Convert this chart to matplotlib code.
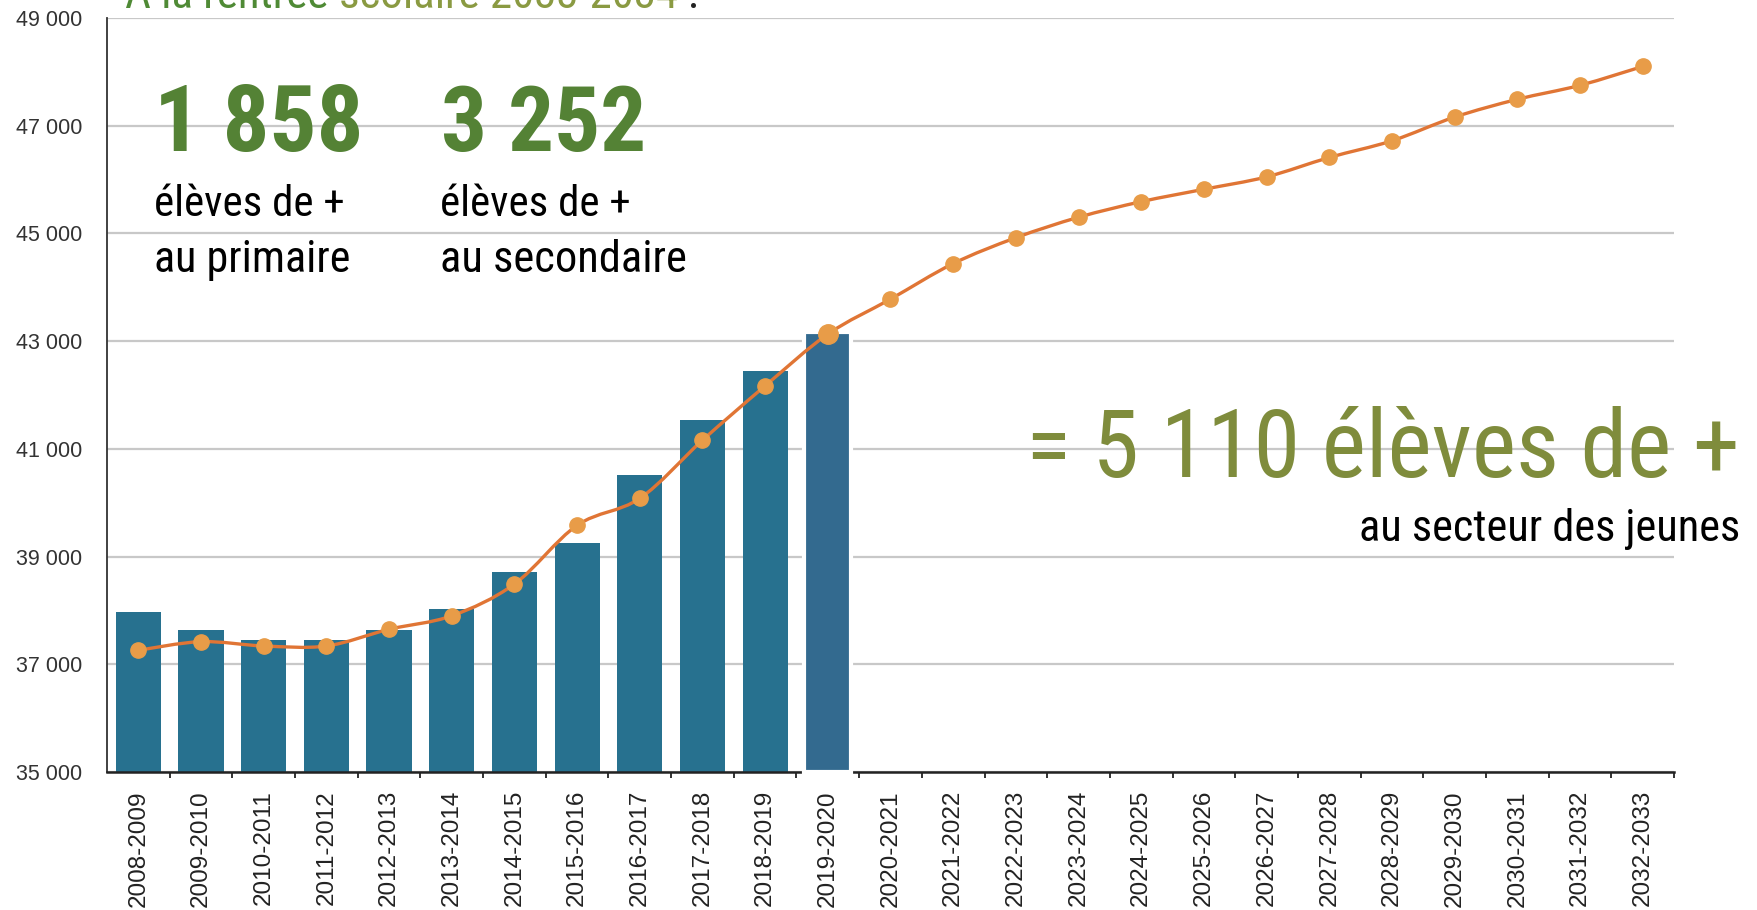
import matplotlib.pyplot as plt
import numpy as np
from matplotlib import font_manager
from matplotlib.font_manager import FontProperties
from matplotlib.path import Path
from matplotlib.patches import PathPatch

# school years on the x axis
years = ["2008-2009", "2009-2010", "2010-2011", "2011-2012", "2012-2013",
         "2013-2014", "2014-2015", "2015-2016", "2016-2017", "2017-2018",
         "2018-2019", "2019-2020", "2020-2021", "2021-2022", "2022-2023",
         "2023-2024", "2024-2025", "2025-2026", "2026-2027", "2027-2028",
         "2028-2029", "2029-2030", "2030-2031", "2031-2032", "2032-2033"]

# observed enrolment (bars), 2008-2009 .. 2019-2020
observed = [37970, 37630, 37450, 37450, 37630, 38030, 38720, 39260,
            40520, 41540, 42440, 43170]

# projected curve (line), 2008-2009 .. 2032-2033
projected = [37260, 37420, 37340, 37340, 37650, 37900, 38490, 39580,
             40080, 41160, 42170, 43130, 43780, 44440, 44920, 45300,
             45590, 45820, 46050, 46410, 46720, 47160, 47490, 47750, 48100]

yticks = [35000, 37000, 39000, 41000, 43000, 45000, 47000, 49000]
ytick_labels = ["35 000", "37 000", "39 000", "41 000", "43 000",
                "45 000", "47 000", "49 000"]

BASE = 35000
W, H = 1758, 910


def stretch_num(s):
    if isinstance(s, (int, float)):
        return s
    return font_manager.stretch_dict.get(s, 500)


def weight_num(w):
    if isinstance(w, (int, float)):
        return w
    return font_manager.weight_dict.get(w, 400)


def narrow_font(bold=False):
    # look for an Arial-Narrow-like face among the installed fonts
    prefs = ["liberation sans narrow", "roboto condensed", "open sans condensed",
             "noto sans", "dejavu sans", "roboto", "open sans"]
    best = None
    for f in font_manager.fontManager.ttflist:
        name = f.name.lower()
        fname = f.fname.lower()
        condensed = ("narrow" in name or "condensed" in name or "condensed" in fname
                     or "narrow" in fname or stretch_num(f.stretch) < 500)
        if not condensed or f.style != "normal":
            continue
        rank_w = 1 if ("extra" in fname or "ultra" in fname or "semi" in fname) else 0
        w = weight_num(f.weight)
        if bold and w < 600:
            continue
        if not bold and not (350 <= w <= 450):
            continue
        rank_n = len(prefs)
        for i, p in enumerate(prefs):
            if name.startswith(p):
                rank_n = i
                break
        key = (rank_w, rank_n, abs(w - (700 if bold else 400)))
        if best is None or key < best[0]:
            best = (key, f.fname)
    if best is None:
        return FontProperties(family="DejaVu Sans", weight="bold" if bold else "normal")
    return FontProperties(fname=best[1])


nar = narrow_font(False)
nar_b = narrow_font(True)
plain = "Liberation Sans"

fig = plt.figure(figsize=(W / 100, H / 100), dpi=100)
ax = fig.add_axes([107 / W, 1 - 772 / H, (1674 - 107) / W, (772 - 18) / H])

# bars
x_obs = np.arange(len(observed))
heights = [v - BASE for v in observed]
ax.bar(x_obs[:-1], heights[:-1], bottom=BASE, width=0.72, color="#27718f", zorder=2)
ax.bar(x_obs[-1:], heights[-1:], bottom=BASE, width=0.75, color="#336a8f",
       edgecolor="white", linewidth=3, zorder=3, clip_on=False)

# smooth line through projected points (Catmull-Rom -> cubic bezier)
xs = np.arange(len(projected), dtype=float)
ys = np.array(projected, dtype=float)
pts = np.column_stack([xs, ys])
verts = [pts[0]]
codes = [Path.MOVETO]
for i in range(len(pts) - 1):
    p0 = pts[max(i - 1, 0)]
    p1 = pts[i]
    p2 = pts[i + 1]
    p3 = pts[min(i + 2, len(pts) - 1)]
    verts += [p1 + (p2 - p0) / 6.0, p2 - (p3 - p1) / 6.0, p2]
    codes += [Path.CURVE4] * 3
ax.add_patch(PathPatch(Path(verts, codes), fill=False, edgecolor="#e07535",
                       linewidth=2.4, zorder=4, capstyle="round"))
ax.plot(xs, ys, linestyle="none", marker="o", markersize=11,
        color="#e89c48", zorder=5)
ax.plot(xs[11:12], ys[11:12], linestyle="none", marker="o", markersize=14,
        color="#e89c48", zorder=5)

ax.set_xlim(-0.5, len(years) - 0.5)
ax.set_ylim(BASE, 49000)

ax.set_yticks(yticks)
ax.set_yticklabels(ytick_labels, fontfamily=plain, fontsize=15.5, color="#333333")
ax.tick_params(axis="y", length=0, pad=18)
ax.yaxis.grid(True, color="#c8c8c8", linewidth=1.6)
ax.set_axisbelow(True)

ax.set_xticks(np.arange(len(years)))
ax.set_xticklabels(years, rotation=90, fontfamily=plain, fontsize=17.5, color="#222222")
ax.set_xticks(np.arange(len(years)) + 0.5, minor=True)
ax.tick_params(axis="x", which="major", length=0, pad=13)
ax.tick_params(axis="x", which="minor", length=4, width=1.3, color="#222222")

for s in ["top", "right"]:
    ax.spines[s].set_visible(False)
ax.spines["left"].set_color("#333333")
ax.spines["left"].set_linewidth(1.3)
ax.spines["bottom"].set_color("#222222")
ax.spines["bottom"].set_linewidth(1.8)

# annotations: (text, x px, baseline px, ha, target width px, colour, bold, size, extra)
green = "#548235"
olive = "#7f8c3c"
notes = [
    ("1 858", 154, 151, "left", 196, green, True, 76, 1.07),
    ("3 252", 441, 151, "left", 192, green, True, 76, 1.07),
    ("élèves de +", 154, 216, "left", 190, "black", False, 31, 1.0),
    ("au primaire", 154, 272, "left", 196, "black", False, 31, 1.0),
    ("élèves de +", 440, 216, "left", 190, "black", False, 31, 1.0),
    ("au secondaire", 440, 272, "left", 246, "black", False, 31, 1.0),
    ("= 5 110 élèves de +", 1740, 477, "right", 700, olive, False, 72, 1.02),
    ("au secteur des jeunes", 1740, 541, "right", 381, "black", False, 31, 1.0),
]
texts = []
for s, xpx, ypx, ha, wpx, col, bold, size, extra in notes:
    t = fig.text(xpx / W, 1 - ypx / H, s, fontproperties=nar_b if bold else nar,
                 fontsize=size, color=col, va="baseline", ha=ha)
    texts.append((t, wpx, size, extra))

fig.canvas.draw()
r = fig.canvas.get_renderer()
for t, wpx, size, extra in texts:
    w = t.get_window_extent(r).width
    if w > 0:
        t.set_fontsize(min(size * 1.15, size * wpx / w) * extra)

# title, cut off by the top edge, drawn in pieces of different colours
title_parts = [("À la rentrée ", "#4f8a35"), ("scolaire 2033-2034 ", "#8a9a42"), (":", "#222222")]
full = "".join(p for p, _ in title_parts)
probe = fig.text(0, 0, full, fontproperties=nar, fontsize=36)
fig.canvas.draw()
tsize = 36 * 574 / probe.get_window_extent(r).width
probe.remove()
xcur = 125
for part, col in title_parts:
    t = fig.text(xcur / W, 1 - 8 / H, part, fontproperties=nar, fontsize=tsize,
                 color=col, va="baseline", ha="left")
    fig.canvas.draw()
    xcur += t.get_window_extent(r).width

fig.savefig("out.png", dpi=100)
